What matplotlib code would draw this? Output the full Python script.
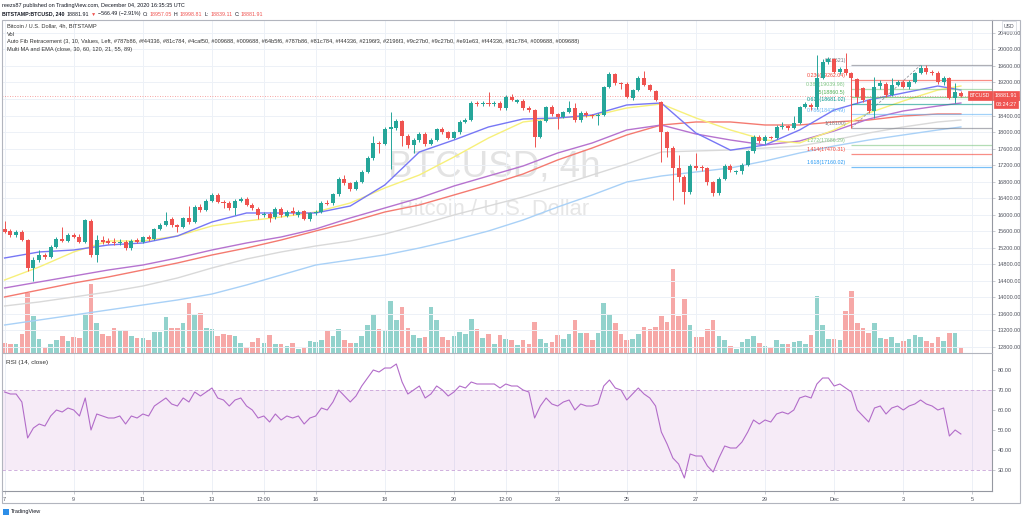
import matplotlib
matplotlib.use("Agg")
import matplotlib.pyplot as plt
from matplotlib.patches import Rectangle
from matplotlib.ticker import FormatStrFormatter

plt.rcParams['font.family'] = ['Liberation Sans', 'DejaVu Sans']

# 4h candles BITSTAMP:BTCUSD, Nov 7 00:00 -> Dec 4 16:00
opens = [15640, 15600, 15500, 15580, 15380, 14700, 14900, 15020, 14970, 15210,
         15400, 15370, 15500, 15460, 15330, 15840, 15020, 15380, 15360, 15340,
         15300, 15340, 15200, 15390, 15340, 15450, 15400, 15650, 15750, 15880,
         15740, 15700, 15920, 15820, 16180, 16110, 16330, 16480, 16310, 16280,
         16160, 16330, 16380, 16240, 16130, 15980, 16020, 15930, 16130, 15970,
         16080, 15990, 16080, 15890, 16040, 16070, 16290, 16270, 16490, 16860,
         16760, 16620, 16790, 17030, 17370, 17740, 17710, 18070, 18100, 18270,
         17900, 17680, 17800, 17950, 17710, 17810, 18070, 17990, 17860, 17990,
         18250, 18300, 18700, 18670, 18700, 18680, 18710, 18580, 18850, 18730,
         18760, 18580, 18530, 17880, 18270, 18610, 18440, 18370, 18490, 18590,
         18290, 18460, 18410, 18380, 18420, 19090, 19400, 19190, 19160, 18820,
         19020, 19320, 19150, 19000, 18730, 17990, 17620, 17120, 16900, 16540,
         17180, 17150, 17120, 16780, 16520, 16870, 17180, 17030, 17060, 17200,
         17530, 17880, 17770, 17880, 17860, 18120, 18150, 18100, 18220, 18610,
         18660, 18600, 19310, 19700, 19760, 19450, 19530, 19420, 19290, 19060,
         18780, 18500, 19110, 19170, 18900, 19150, 19220, 19100, 19220, 19430,
         19550, 19450, 19430, 19200, 19310, 18830, 18957.05]
highs = [15840, 15650, 15620, 15620, 15400, 14960, 15150, 15060, 15250, 15450,
         15700, 15560, 15560, 15520, 15900, 15890, 15500, 15480, 15430, 15420,
         15400, 15380, 15400, 15430, 15480, 15500, 15680, 15800, 16050, 15950,
         15780, 15950, 16200, 16230, 16250, 16380, 16520, 16530, 16340, 16320,
         16380, 16430, 16420, 16270, 16180, 16060, 16050, 16180, 16170, 16100,
         16170, 16110, 16110, 16070, 16110, 16330, 16350, 16530, 16900, 16950,
         16800, 16830, 17080, 17420, 17900, 17780, 18120, 18480, 18320, 18300,
         17950, 17850, 17990, 17990, 17850, 18100, 18130, 18020, 18030, 18290,
         18340, 18750, 18760, 18740, 18970, 18760, 18750, 18900, 18920, 18800,
         18790, 18620, 18560, 18300, 18640, 18660, 18470, 18520, 18750, 18700,
         18500, 18500, 18440, 18450, 19120, 19450, 19440, 19220, 19200, 19050,
         19350, 19480, 19170, 19030, 18760, 18020, 17650, 17450, 16950, 17220,
         17490, 17200, 17150, 16810, 16900, 17220, 17230, 17090, 17240, 17560,
         17920, 17920, 17920, 17900, 18160, 18250, 18180, 18400, 18640, 18720,
         18700, 19870, 19760, 19820, 19790, 19580, 19920, 19450, 19300, 19100,
         18800, 19330, 19250, 19200, 19300, 19270, 19260, 19260, 19460, 19621,
         19620, 19500, 19480, 19350, 19330, 19190, 18998.81]
lows = [15540, 15450, 15460, 15350, 14620, 14400, 14850, 14930, 14950, 15180,
        15330, 15340, 15420, 15300, 15300, 14980, 14850, 15280, 15280, 15260,
        15250, 15150, 15150, 15300, 15310, 15370, 15380, 15620, 15720, 15700,
        15580, 15680, 15780, 15800, 16050, 16080, 16300, 16280, 16150, 16100,
        16000, 16300, 16200, 16120, 15880, 15930, 15820, 15900, 15950, 15930,
        15990, 15950, 15870, 15850, 16000, 16030, 16220, 16230, 16460, 16720,
        16580, 16590, 16760, 17000, 17330, 17500, 17680, 17100, 18050, 17650,
        17620, 17500, 17760, 17670, 17680, 17780, 17960, 17820, 17830, 17960,
        18210, 18270, 18620, 18630, 18640, 18640, 18540, 18540, 18740, 18700,
        18540, 18490, 17640, 17850, 18240, 18400, 18080, 18340, 18460, 18250,
        18250, 18370, 18340, 18160, 18390, 19060, 19150, 19050, 18820, 18780,
        18990, 19120, 18990, 18740, 17270, 17400, 16350, 16800, 16250, 16500,
        17080, 17050, 16720, 16450, 16480, 16840, 17040, 16980, 16980, 17170,
        17500, 17740, 17700, 17820, 17840, 18070, 18050, 18070, 18190, 18580,
        18540, 18560, 19280, 19640, 19420, 19410, 19380, 18100, 18700, 18720,
        18450, 18340, 19050, 18850, 18870, 19110, 19060, 19050, 19190, 19400,
        19400, 19380, 19170, 19150, 18800, 18710, 18839.11]
closes = [15580, 15500, 15580, 15380, 14700, 14900, 15020, 14970, 15210, 15400,
          15370, 15500, 15460, 15330, 15870, 15020, 15380, 15330, 15320, 15300,
          15340, 15200, 15360, 15340, 15450, 15400, 15650, 15750, 15850, 15740,
          15700, 15920, 15820, 16180, 16110, 16330, 16480, 16310, 16280, 16160,
          16330, 16380, 16240, 16160, 15990, 16020, 15920, 16130, 15990, 16060,
          16030, 16060, 15900, 16040, 16070, 16290, 16260, 16490, 16860, 16760,
          16620, 16790, 17030, 17370, 17740, 17710, 18070, 18120, 18270, 17900,
          17680, 17800, 17950, 17710, 17810, 18070, 18000, 17860, 17990, 18250,
          18300, 18700, 18670, 18700, 18680, 18710, 18580, 18850, 18780, 18770,
          18580, 18530, 17880, 18270, 18610, 18440, 18370, 18490, 18580, 18290,
          18460, 18410, 18380, 18420, 19090, 19400, 19190, 19160, 18850, 19020,
          19320, 19150, 19020, 18780, 17990, 17620, 17120, 16900, 16540, 17180,
          17130, 17120, 16800, 16520, 16870, 17180, 17080, 17060, 17200, 17530,
          17880, 17770, 17880, 17860, 18120, 18150, 18100, 18220, 18610, 18680,
          18600, 19310, 19700, 19760, 19450, 19530, 19420, 19310, 18850, 18780,
          18500, 19090, 19190, 18900, 19150, 19220, 19100, 19220, 19430, 19550,
          19450, 19430, 19210, 19310, 18830, 18960, 18881.91]
volumes = [1000, 900, 900, 1900, 6000, 3700, 1400, 600, 900, 1300,
           1700, 1200, 1600, 1500, 3800, 6900, 3000, 1900, 1700, 2500,
           2300, 2300, 1700, 1500, 1500, 1300, 2100, 2100, 3600, 2500,
           2500, 3000, 5000, 3900, 4000, 2500, 2400, 1700, 1900, 1800,
           1700, 1000, 600, 1100, 1500, 1000, 1800, 900, 900, 700,
           1000, 400, 600, 1200, 1100, 1300, 2200, 1700, 2400, 1300,
           1000, 1000, 1700, 2800, 3900, 2400, 2300, 5200, 3300, 4600,
           2500, 1800, 1500, 1600, 4600, 3300, 1600, 1300, 1700, 2100,
           1900, 3400, 2400, 1500, 1900, 900, 1800, 1400, 1300, 800,
           1300, 900, 3100, 1400, 1000, 1100, 1800, 1400, 1900, 3300,
           2000, 2000, 1300, 2000, 5000, 3900, 3000, 1900, 1300, 1400,
           1900, 2600, 2400, 2600, 3700, 3100, 8400, 3700, 5400, 2800,
           1600, 1600, 2400, 3300, 1700, 1300, 700, 400, 1100, 1400,
           1700, 1000, 700, 500, 1300, 900, 900, 1100, 1200, 900,
           1800, 5700, 2800, 1400, 1400, 1300, 4200, 6200, 3000, 2500,
           2000, 3000, 1500, 1400, 1600, 1000, 1200, 1400, 1800, 1600,
           1200, 1000, 1600, 1200, 2000, 2000, 500]
rsi = [69, 68, 68, 64, 46, 51, 53, 52, 57, 60,
       59, 61, 60, 57, 66, 50, 58, 57, 56, 56,
       57, 53, 57, 56, 58, 57, 62, 64, 66, 63,
       62, 66, 64, 69, 67, 69, 71, 66, 65, 62,
       65, 66, 62, 60, 56, 57, 54, 58, 55, 57,
       56, 57, 53, 56, 57, 61, 60, 64, 70, 67,
       64, 67, 72, 76, 80, 79, 81, 81, 83, 74,
       68, 70, 72, 66, 68, 72, 70, 67, 69, 72,
       71, 74, 73, 73, 73, 73, 71, 73, 72, 72,
       70, 69, 56, 62, 66, 63, 62, 64, 65, 60,
       63, 62, 62, 63, 72, 75, 71, 70, 65, 68,
       71, 68, 66, 62, 49, 43, 36, 33, 26, 38,
       37, 37, 32, 29, 36, 42, 41, 41, 44, 49,
       55, 53, 55, 54, 58, 59, 58, 60, 66, 67,
       66, 73, 76, 76, 72, 73, 71, 69, 60, 57,
       54, 61, 62, 58, 61, 62, 60, 62, 63, 65,
       63, 62, 60, 61, 47, 50, 48]

# moving averages, sampled once a day (candle index)
ma_idx = list(range(0, 163, 6)) + [166]
ema21 = [14946, 15092, 15140, 15261, 15310, 15479, 15819, 16037, 16037, 16037,
         16206, 16716, 17516, 17806, 18122, 18315, 18340, 18412, 18655, 18703,
         17976, 17560, 17685, 18049, 18534, 18776, 18946, 19115, 19018]
ma30 = [14413, 14728, 15092, 15358, 15358, 15479, 15722, 15843, 15940, 16061,
        16279, 16643, 16958, 17394, 17855, 18243, 18340, 18388, 18582, 18679,
        18340, 18049, 17806, 17734, 18049, 18461, 18752, 19018, 19115]
ema55 = [14219, 14365, 14510, 14655, 14776, 14946, 15140, 15310, 15455, 15649,
         15916, 16158, 16400, 16691, 16934, 17176, 17491, 17734, 18049, 18170,
         17952, 17806, 17685, 17782, 18025, 18315, 18510, 18630, 18703]
ma60 = [14001, 14170, 14340, 14486, 14655, 14825, 15019, 15188, 15382, 15601,
        15819, 16061, 16231, 16473, 16716, 16982, 17322, 17612, 17928, 18170,
        18243, 18243, 18170, 18170, 18243, 18291, 18388, 18437, 18437]
ema89 = [13783, 13880, 14001, 14122, 14267, 14461, 14704, 14922, 15092, 15237,
         15358, 15528, 15746, 15988, 16206, 16425, 16691, 16958, 17225, 17516,
         17540, 17564, 17612, 17661, 17806, 17976, 18122, 18243, 18291]
ma120 = [13322, 13443, 13564, 13686, 13807, 13928, 14073, 14292, 14534, 14776,
         14898, 15019, 15188, 15382, 15601, 15867, 16182, 16473, 16788, 16934,
         17031, 17128, 17297, 17491, 17661, 17806, 17928, 18049, 18122]

fib_labels = ['0', '0.236', '0.382', '0.5', '0.618', '0.786', '1', '1.272', '1.414', '1.618']
fib_prices = [19621, 19262.04, 19039.98, 18860.5, 18681.02, 18425.49, 18100, 17686.29, 17470.31, 17160.02]
fib_colors = ['#787b86', '#f44336', '#81c784', '#4caf50', '#009688', '#64b5f6',
              '#787b86', '#81c784', '#f44336', '#2196f3']

tick_pos = [0, 12, 24, 36, 45, 54, 66, 78, 87, 96, 108, 120, 132, 144, 156, 168]
tick_txt = ['7', '9', '11', '13', '12:00', '16', '18', '20', '12:00', '23', '25',
            '27', '29', 'Dec', '3', '5']

last_price = 18881.91
UP, DOWN = '#26a69a', '#ef5350'
GRID = '#edf1f7'
NARROW = ['Liberation Sans Narrow', 'Liberation Sans']

W, H = 1024, 520
def fx(p):
    return p / W
def fy(p):
    return 1 - p / H

fig = plt.figure(figsize=(10.24, 5.2), dpi=100)
ax = fig.add_axes([fx(2), fy(353), 990 / W, 333 / H])
rax = fig.add_axes([fx(2), fy(491), 990 / W, 138 / H], sharex=ax)
vax = ax.twinx()
ax.set_zorder(vax.get_zorder() + 1)
ax.patch.set_visible(False)

n = len(closes)
x = list(range(n))
cols = [UP if c >= o else DOWN for o, c in zip(opens, closes)]

# watermark + volume on the bottom layer
vax.text(85, 0.56, 'BTCUSD, 4h', transform=vax.get_xaxis_transform(), ha='center', va='center',
         fontsize=26.5, color='#e3e3e3', family=NARROW, zorder=0)
vax.text(85, 0.43, 'Bitcoin / U.S. Dollar', transform=vax.get_xaxis_transform(), ha='center',
         va='center', fontsize=15.8, color='#e6e6e6', family=NARROW, zorder=0)
vax.bar(x, volumes, width=0.8, color=cols, alpha=0.5, linewidth=0)
vax.set_ylim(0, 33300)
vax.yaxis.set_visible(False)
for s in vax.spines.values():
    s.set_visible(False)

# grid
for t in tick_pos:
    ax.axvline(t, color=GRID, lw=0.7, zorder=0)
    rax.axvline(t, color=GRID, lw=0.7, zorder=0)
for p in range(12800, 20401, 400):
    ax.axhline(p, color=GRID, lw=0.7, zorder=0)

# moving averages
ax.plot(ma_idx, ma120, color='#a9d1f7', lw=1)
ax.plot(ma_idx, ema89, color='#d9d9d9', lw=1)
ax.plot(ma_idx, ma60, color='#f47a70', lw=1)
ax.plot(ma_idx, ema55, color='#b673cf', lw=1)
ax.plot(ma_idx, ma30, color='#f7f07a', lw=1)
ax.plot(ma_idx, ema21, color='#7777f5', lw=1)

# last price dotted line
ax.axhline(last_price, color=DOWN, lw=0.6, ls=(0, (1, 2)), alpha=0.7)

# fib retracement
ax.plot([147, 159], [fib_prices[6], fib_prices[0]], color='#9598a1', lw=0.6, ls=(0, (3, 2)))
for lab, pr, c in zip(fib_labels, fib_prices, fib_colors):
    ax.hlines(pr, 147, 171.4, color=c, lw=0.9, alpha=0.6)
    ax.text(146, pr + 40, '%s(%s)' % (lab, ('%.2f' % pr).rstrip('0').rstrip('.')), ha='right',
            va='bottom', fontsize=3.8, color=c)

# candles
ax.vlines(x, lows, highs, colors=cols, lw=0.7, zorder=3)
bottoms = [min(o, c) for o, c in zip(opens, closes)]
heights = [max(abs(c - o), 12) for o, c in zip(opens, closes)]
ax.bar(x, heights, bottom=bottoms, width=0.7, color=cols, linewidth=0, zorder=4)

ax.set_xlim(-0.45, 171.4)
ax.set_ylim(12643, 20715)
ax.yaxis.tick_right()
ax.set_yticks(range(12800, 20401, 400))
ax.yaxis.set_major_formatter(FormatStrFormatter('%.2f'))
ax.tick_params(axis='y', labelsize=4, colors='#b2b5be', labelcolor='#50535e', length=2, pad=2, width=0.5)
ax.tick_params(axis='x', bottom=False, labelbottom=False)
for k in ['top', 'left']:
    ax.spines[k].set_visible(False)
ax.spines['right'].set_color('#9598a1')
ax.spines['bottom'].set_color('#b2b5be')
ax.spines['right'].set_linewidth(0.8)
ax.spines['bottom'].set_linewidth(0.8)

# RSI pane
rax.axhspan(30, 70, color='#9c27b0', alpha=0.09, lw=0)
rax.axhline(70, color='#c9a3d8', lw=0.6, ls=(0, (4, 3)))
rax.axhline(30, color='#c9a3d8', lw=0.6, ls=(0, (4, 3)))
rax.plot(x, rsi, color='#b26cc9', lw=0.8)
rax.set_ylim(19.5, 88.5)
rax.yaxis.tick_right()
rax.set_yticks([30, 40, 50, 60, 70, 80])
rax.yaxis.set_major_formatter(FormatStrFormatter('%.2f'))
rax.tick_params(axis='y', labelsize=4, colors='#b2b5be', labelcolor='#50535e', length=2, pad=2, width=0.5)
rax.set_xticks(tick_pos)
rax.set_xticklabels(tick_txt)
rax.tick_params(axis='x', labelsize=4, colors='#b2b5be', labelcolor='#50535e', length=2, pad=2, width=0.5)
for k in ['top', 'left']:
    rax.spines[k].set_visible(False)
rax.spines['right'].set_color('#9598a1')
rax.spines['bottom'].set_color('#9598a1')
rax.spines['right'].set_linewidth(0.8)
rax.spines['bottom'].set_linewidth(0.8)
rax.text(0.004, 0.95, 'RSI (14, close)', transform=rax.transAxes, fontsize=4.6, color='#333333', va='top')

# outer frame
fig.patches.append(Rectangle((fx(2), fy(503)), 1018 / W, 483 / H, transform=fig.transFigure,
                             fill=False, ec='#b2b5be', lw=0.8))

# header
fig.text(fx(2), fy(6), 'reezs87 published on TradingView.com, December 04, 2020 16:35:35 UTC',
         fontsize=4.0, color='#131722', va='center')
head = [('BITSTAMP:BTCUSD, 240', '#131722', 'bold', 2.5), ('18881.91', '#131722', 'normal', 1.5),
        ('\u25bc', DOWN, 'normal', 1.5), ('\u2212566.49 (\u22122.91%)', '#131722', 'normal', 2.5),
        ('O:', '#131722', 'normal', 0.8), ('18957.05', DOWN, 'normal', 2.5),
        ('H:', '#131722', 'normal', 0.8), ('18998.81', DOWN, 'normal', 2.5),
        ('L:', '#131722', 'normal', 0.8), ('18839.11', DOWN, 'normal', 2.5),
        ('C:', '#131722', 'normal', 0.8), ('18881.91', DOWN, 'normal', 0)]
renderer = fig.canvas.get_renderer()
xpos = 2
for s, c, wgt, gap in head:
    t = fig.text(fx(xpos), fy(14), s, fontsize=3.8, color=c, weight=wgt, va='center')
    xpos += t.get_window_extent(renderer=renderer).width + gap

legend_lines = ['Bitcoin / U.S. Dollar, 4h, BITSTAMP', 'Vol',
                'Auto Fib Retracement (3, 10, Values, Left, #787b86, #f44336, #81c784, #4caf50, '
                '#009688, #009688, #64b5f6, #787b86, #81c784, #f44336, #2196f3, #2196f3, #9c27b0, '
                '#9c27b0, #e91e63, #f44336, #81c784, #009688, #009688)',
                'Multi MA and EMA (close, 30, 60, 120, 21, 55, 89)']
for k, s in enumerate(legend_lines):
    fig.text(fx(7), fy(26 + 8 * k), s, fontsize=4.1, color='#333333', va='center')

# price axis labels
fig.text(fx(1009), fy(26), 'USD', fontsize=3.7, color='#50535e', ha='center', va='center',
         bbox=dict(boxstyle='square,pad=0.4', fc='white', ec='#d1d4dc', lw=0.5))
fig.text(fx(1006), fy(95.5), '18881.91', fontsize=3.9, color='white', ha='center', va='center',
         bbox=dict(boxstyle='square,pad=0.35', fc=DOWN, ec=DOWN, lw=0.5))
fig.text(fx(1006), fy(104), '03:24:27', fontsize=3.9, color='white', ha='center', va='center',
         bbox=dict(boxstyle='square,pad=0.35', fc=DOWN, ec=DOWN, lw=0.5))
fig.text(fx(980), fy(95.5), 'BTCUSD', fontsize=3.6, color='white', ha='center', va='center',
         bbox=dict(boxstyle='square,pad=0.35', fc=DOWN, ec=DOWN, lw=0.5))

# footer logo
fig.patches.append(Rectangle((fx(3), fy(515)), 6 / W, 6 / H, transform=fig.transFigure,
                             fc='#2d8ee8', ec='none'))
fig.text(fx(11), fy(512), 'TradingView', fontsize=4, color='#131722', va='center')

fig.savefig('out.png', dpi=100)
